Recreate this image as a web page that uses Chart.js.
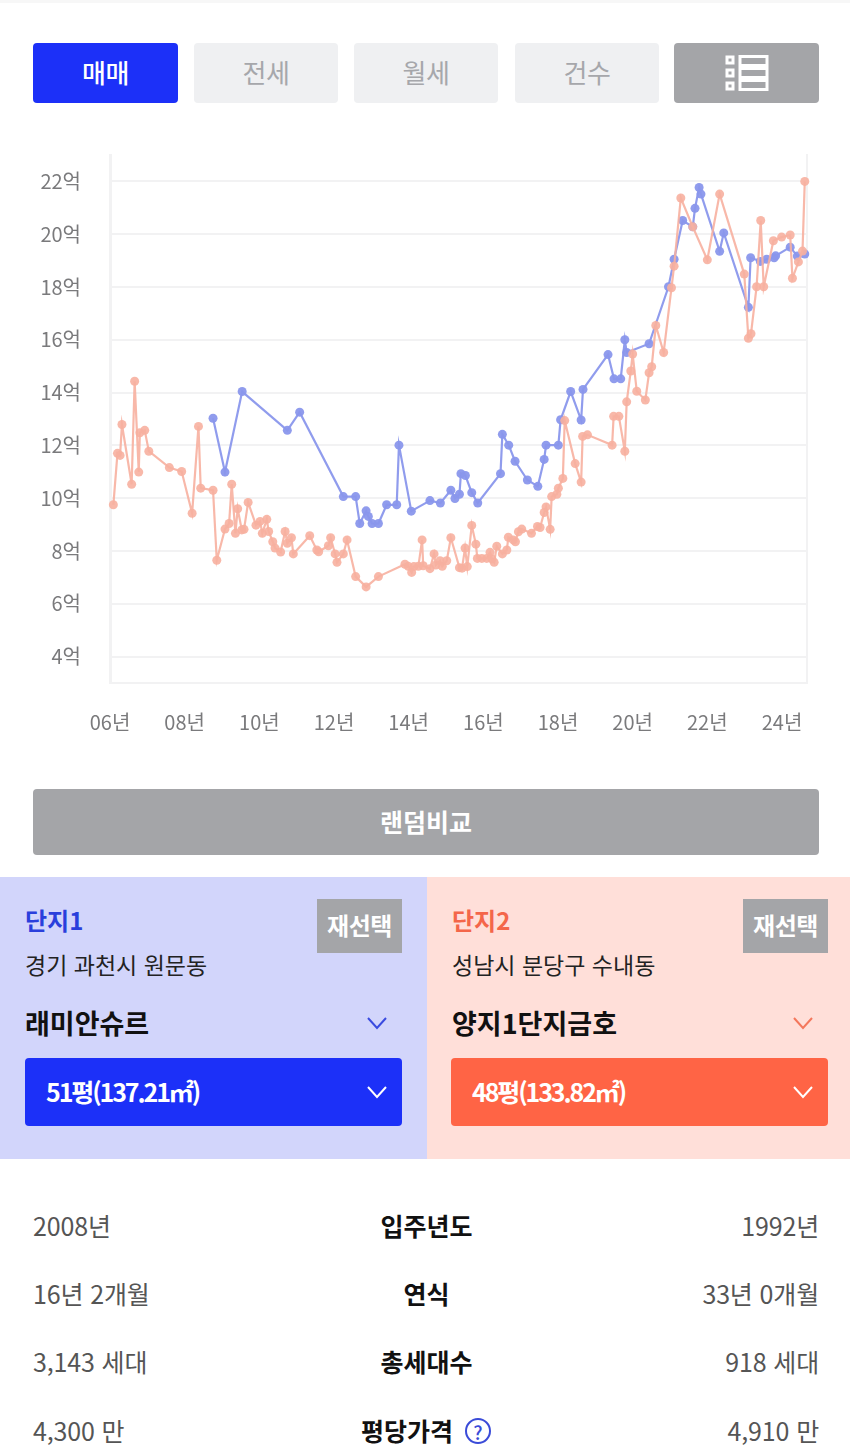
<!DOCTYPE html>
<html lang="ko"><head><meta charset="utf-8">
<script src="https://cdn.jsdelivr.net/npm/chart.js@4"></script>
<style>
*{box-sizing:border-box;margin:0;padding:0}
html,body{width:850px;height:1456px;overflow:hidden;background:#fff;font-family:"Noto Sans CJK KR","Noto Sans",sans-serif}
.a{position:absolute;white-space:nowrap}
.c{display:flex;align-items:center;justify-content:center}
.v{line-height:1;transform:translateY(calc(-50% - 1px))}
.tab{top:43px;height:60px;border-radius:4px;background:#eff0f2;color:#a6a7ab;font-size:26px;width:145px;letter-spacing:-.5px;padding-bottom:4px}
.resel{width:85px;height:54px;top:899px;background:#a4a5a8;color:#fff;font-weight:700;font-size:24px;letter-spacing:-.4px;padding-bottom:3px}
.sel{top:1058px;width:377px;height:68px;border-radius:4px;color:#fff;font-weight:700;font-size:25px;display:flex;align-items:center;letter-spacing:-2.1px;padding-bottom:2px}
.ro{font-size:25px;color:#555;letter-spacing:-.15px}
.rc{font-size:25px;font-weight:700;color:#111;left:0;width:853px;text-align:center}
canvas{position:absolute;left:0;top:114px}
</style></head><body>
<div class="a" style="left:0;top:0;width:850px;height:3px;background:#f7f7f7"></div>
<div class="a c tab" style="left:33px;background:#1c30f8;color:#fff;font-weight:500">매매</div>
<div class="a c tab" style="left:194px;width:144px">전세</div>
<div class="a c tab" style="left:354px;width:144px">월세</div>
<div class="a c tab" style="left:515px;width:144px">건수</div>
<div class="a c tab" style="left:674px;background:#a4a5a8;padding-bottom:0">
<svg width="44" height="36" viewBox="0 0 44 36" fill="none" stroke="#fff" stroke-width="3"><rect x="2" y="2" width="6" height="6"/><rect x="2" y="15" width="6" height="6"/><rect x="2" y="28" width="6" height="6"/><rect x="15" y="1.5" width="27" height="9"/><rect x="15" y="13.5" width="27" height="9"/><rect x="15" y="25.5" width="27" height="9"/></svg></div>

<canvas id="chart" width="850" height="625"></canvas>

<div class="a c" style="left:33px;top:789px;width:786px;height:66px;border-radius:4px;background:#a4a5a8;color:#fff;font-weight:700;font-size:25px;padding-bottom:3px">랜덤비교</div>

<div class="a" style="left:0;top:877px;width:427px;height:282px;background:#d2d5fb"></div>
<div class="a" style="left:427px;top:877px;width:423px;height:282px;background:#ffdfd9"></div>

<div class="a v" style="left:25px;top:921px;font-size:24px;font-weight:700;color:#2a3fdc">단지1</div>
<div class="a c resel" style="left:317px">재선택</div>
<div class="a v" style="left:25px;top:965px;font-size:23px;color:#222">경기 과천시 원문동</div>
<div class="a v" style="left:25px;top:1023px;font-size:27px;font-weight:700;color:#111">래미안슈르</div>
<svg class="a" style="left:367px;top:1016px" width="20" height="14" fill="none" stroke="#3a4be0" stroke-width="2"><path d="M1 2l9 10 9-10"/></svg>
<div class="a sel" style="left:25px;background:#1c30f8;padding-left:21px">51평(137.21㎡)</div>
<svg class="a" style="left:367px;top:1085px" width="20" height="14" fill="none" stroke="#fff" stroke-width="2"><path d="M1 2l9 10 9-10"/></svg>

<div class="a v" style="left:452px;top:921px;font-size:24px;font-weight:700;color:#f4664a">단지2</div>
<div class="a c resel" style="left:743px">재선택</div>
<div class="a v" style="left:452px;top:965px;font-size:23px;color:#222">성남시 분당구 수내동</div>
<div class="a v" style="left:452px;top:1023px;font-size:27px;font-weight:700;color:#111">양지1단지금호</div>
<svg class="a" style="left:793px;top:1016px" width="20" height="14" fill="none" stroke="#f4775c" stroke-width="2"><path d="M1 2l9 10 9-10"/></svg>
<div class="a sel" style="left:451px;background:#ff6445;padding-left:21px">48평(133.82㎡)</div>
<svg class="a" style="left:793px;top:1085px" width="20" height="14" fill="none" stroke="#fff" stroke-width="2"><path d="M1 2l9 10 9-10"/></svg>

<div class="a v ro" style="left:33px;top:1226px">2008년</div><div class="a v rc" style="top:1226px">입주년도</div><div class="a v ro" style="right:31px;top:1226px">1992년</div>
<div class="a v ro" style="left:33px;top:1294px">16년 2개월</div><div class="a v rc" style="top:1294px">연식</div><div class="a v ro" style="right:31px;top:1294px">33년 0개월</div>
<div class="a v ro" style="left:33px;top:1362px">3,143 세대</div><div class="a v rc" style="top:1362px">총세대수</div><div class="a v ro" style="right:31px;top:1362px">918 세대</div>
<div class="a v ro" style="left:33px;top:1431px">4,300 만</div><div class="a v" style="left:361px;top:1431px;font-size:25px;font-weight:700;color:#111">평당가격</div><div class="a v ro" style="right:31px;top:1431px">4,910 만</div>
<div class="a c" style="left:465px;top:1418px;width:26px;height:26px;border:2.5px solid #3a4bd8;border-radius:50%;color:#3a4bd8;font-size:19px;font-weight:500">?</div>

<script>
const xTickValues=[2006,2008,2010,2012,2014,2016,2018,2020,2022,2024];
const xTickLabels=['06년','08년','10년','12년','14년','16년','18년','20년','22년','24년'];
const yTickValues=[4,6,8,10,12,14,16,18,20,22];
const yTickLabels=['4억','6억','8억','10억','12억','14억','16억','18억','20억','22억'];

const complex1Name='래미안슈르';
const complex1Years=[2008.76,2009.08,2009.54,2010.75,2011.08,2012.25,2012.58,2012.69,2012.86,2012.92,2013.02,2013.19,2013.41,2013.68,2013.74,2014.07,2014.57,2014.85,2015.13,2015.24,2015.36,2015.40,2015.52,2015.69,2015.85,2016.46,2016.51,2016.68,2016.85,2017.18,2017.46,2017.63,2017.68,2018.01,2018.07,2018.34,2018.62,2018.67,2019.34,2019.50,2019.68,2019.79,2019.84,2020.44,2020.96,2021.11,2021.34,2021.61,2021.67,2021.78,2021.83,2022.33,2022.44,2023.10,2023.16,2023.42,2023.59,2023.79,2023.83,2024.22,2024.41,2024.61];
const complex1Prices=[13.03,10.99,14.04,12.57,13.26,10.06,10.06,9.04,9.52,9.31,9.04,9.04,9.75,9.75,12.01,9.51,9.91,9.82,10.30,9.99,10.15,10.93,10.86,10.21,9.82,10.93,12.42,12.01,11.40,10.69,10.45,11.47,12.01,12.01,12.97,14.04,12.96,14.12,15.44,14.52,14.52,16.00,15.52,15.85,18.01,19.05,20.52,20.28,20.98,21.77,21.52,19.35,20.05,17.23,19.11,18.97,19.05,19.11,19.18,19.51,19.17,19.25];

const complex2Name='양지1단지금호';
const complex2Years=[2006.09,2006.20,2006.27,2006.32,2006.58,2006.66,2006.77,2006.80,2006.93,2007.04,2007.59,2007.92,2008.20,2008.37,2008.43,2008.76,2008.86,2009.08,2009.19,2009.26,2009.36,2009.42,2009.53,2009.59,2009.70,2009.91,2010.02,2010.08,2010.20,2010.25,2010.36,2010.42,2010.57,2010.69,2010.75,2010.86,2010.91,2011.35,2011.54,2011.59,2011.85,2011.91,2012.03,2012.08,2012.25,2012.35,2012.58,2012.86,2013.19,2013.90,2013.99,2014.08,2014.14,2014.26,2014.36,2014.39,2014.57,2014.68,2014.73,2014.84,2014.90,2015.02,2015.13,2015.36,2015.43,2015.51,2015.57,2015.69,2015.80,2015.84,2015.96,2016.09,2016.18,2016.23,2016.29,2016.36,2016.51,2016.63,2016.67,2016.80,2016.86,2016.94,2017.03,2017.29,2017.45,2017.52,2017.63,2017.68,2017.79,2017.83,2017.97,2018.01,2018.13,2018.18,2018.46,2018.62,2018.66,2018.79,2019.45,2019.49,2019.63,2019.79,2019.84,2019.95,2020.00,2020.11,2020.34,2020.44,2020.51,2020.62,2020.83,2021.04,2021.11,2021.29,2021.61,2022.00,2022.33,2022.99,2023.10,2023.17,2023.32,2023.43,2023.51,2023.77,2023.99,2024.22,2024.28,2024.44,2024.55,2024.61];
const complex2Prices=[9.75,11.70,11.62,12.79,10.53,14.43,10.99,12.48,12.57,11.78,11.16,11.01,9.43,12.72,10.38,10.30,7.65,8.83,9.04,10.53,8.67,9.60,8.80,8.82,9.84,8.98,9.12,8.67,9.20,8.74,8.35,8.11,7.96,8.74,8.29,8.50,7.89,8.58,8.04,7.97,8.20,8.50,7.89,7.57,7.89,8.42,7.03,6.64,7.03,7.50,7.42,7.19,7.41,7.42,8.42,7.44,7.33,7.89,7.47,7.63,7.42,7.63,8.50,7.37,7.35,8.11,7.41,8.97,8.26,7.72,7.72,7.72,7.95,7.70,7.57,8.18,7.89,8.04,8.52,8.42,8.35,8.73,8.83,8.67,8.93,8.89,9.46,9.67,8.82,10.06,10.15,10.38,10.75,12.94,11.31,10.61,12.34,12.40,12.01,13.10,13.10,11.78,13.65,14.82,15.46,14.05,13.72,14.75,14.98,16.54,15.52,17.97,18.79,21.37,20.28,19.03,21.52,18.49,16.06,16.23,18.01,20.52,18.01,19.75,19.89,19.97,18.33,18.95,19.36,22.00];

const toPoints=(xs,ys)=>xs.map((x,i)=>({x,y:ys[i]}));
const BLUE='rgba(138,151,236,.95)',PINK='rgba(247,176,160,.9)',GRID='#f2f2f3',TICK='#7a7a7c';
const tickFont={family:'"Noto Sans CJK KR","Noto Sans",sans-serif',size:20};

new Chart(document.getElementById('chart'),{
  type:'line',
  data:{datasets:[
    {label:complex1Name,data:toPoints(complex1Years,complex1Prices),order:2,borderColor:BLUE,backgroundColor:BLUE,borderWidth:2.2,pointRadius:4.5,pointBorderWidth:0,tension:0,clip:false},
    {label:complex2Name,data:toPoints(complex2Years,complex2Prices),order:1,borderColor:PINK,backgroundColor:PINK,borderWidth:2.2,pointRadius:4.5,pointBorderWidth:0,tension:0,clip:false}
  ]},
  options:{
    responsive:false,animation:false,parsing:false,normalized:true,
    layout:{padding:{top:15,right:42,left:0,bottom:0}},
    plugins:{legend:{display:false},tooltip:{enabled:false},title:{display:false}},
    scales:{
      x:{type:'linear',min:2006,max:2024.67,
        grid:{display:false},border:{color:GRID,width:2},
        afterBuildTicks:s=>{s.ticks=xTickValues.map(value=>({value}))},
        afterFit:s=>{s.height=56},
        ticks:{autoSkip:false,maxRotation:0,padding:19,color:TICK,font:tickFont,callback:v=>xTickLabels[xTickValues.indexOf(v)]}},
      y:{type:'linear',min:3,max:23,
        grid:{color:GRID,lineWidth:2,drawTicks:false},border:{color:GRID,width:3},
        afterBuildTicks:s=>{s.ticks=yTickValues.map(value=>({value}))},
        afterFit:s=>{s.width=110},
        ticks:{padding:29,color:TICK,font:tickFont,callback:v=>yTickLabels[yTickValues.indexOf(v)]}},
      yRight:{type:'linear',position:'right',min:3,max:23,
        grid:{display:false},border:{color:GRID,width:2},
        ticks:{display:false},afterFit:s=>{s.width=1}}
    }
  }
});
</script>
</body></html>
